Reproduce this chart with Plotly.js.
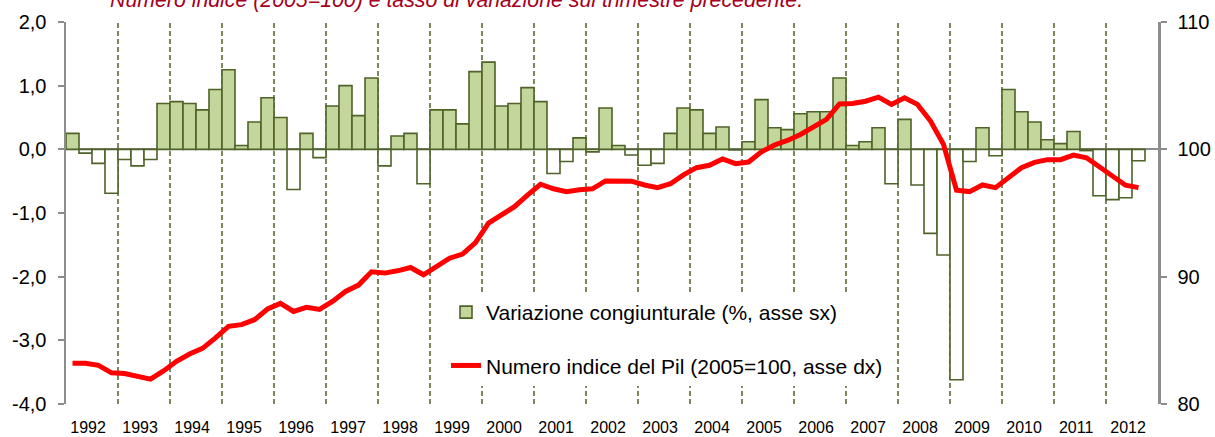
<!DOCTYPE html>
<html>
<head>
<meta charset="utf-8">
<script src="https://cdn.plot.ly/plotly-3.0.1.min.js"></script>
<style>html,body{margin:0;padding:0;background:#fff;}#chart{width:1215px;height:437px;}</style>
</head>
<body>
<div id="chart"></div>
<script>
// ---- Data ----
var years = ["1992","1993","1994","1995","1996","1997","1998","1999","2000","2001","2002",
             "2003","2004","2005","2006","2007","2008","2009","2010","2011","2012"];
var quarters = ["I","II","III","IV"];

// Variazione congiunturale (%), quarterly, 1992Q1 - 2012Q4 (last quarter not available)
var variazione = [
  0.25, -0.06, -0.22, -0.69,   // 1992
 -0.16, -0.26, -0.16,  0.72,   // 1993
  0.75,  0.72,  0.62,  0.94,   // 1994
  1.25,  0.06,  0.43,  0.81,   // 1995
  0.50, -0.63,  0.25, -0.13,   // 1996
  0.68,  1.00,  0.53,  1.12,   // 1997
 -0.26,  0.21,  0.25, -0.54,   // 1998
  0.62,  0.62,  0.40,  1.22,   // 1999
  1.37,  0.68,  0.72,  0.97,   // 2000
  0.75, -0.38, -0.19,  0.18,   // 2001
 -0.04,  0.65,  0.06, -0.09,   // 2002
 -0.25, -0.22,  0.25,  0.65,   // 2003
  0.62,  0.25,  0.35, -0.01,   // 2004
  0.12,  0.78,  0.34,  0.31,   // 2005
  0.56,  0.59,  0.59,  1.12,   // 2006
  0.06,  0.12,  0.34, -0.54,   // 2007
  0.47, -0.56, -1.32, -1.66,   // 2008
 -3.62, -0.19,  0.34, -0.10,   // 2009
  0.94,  0.59,  0.43,  0.15,   // 2010
  0.09,  0.28, -0.02, -0.73,   // 2011
 -0.79, -0.76, -0.18,  null    // 2012
];

// Numero indice del Pil (2005=100)
var indice = [
  83.20, 83.20, 83.04, 82.45,
  82.40, 82.15, 81.95, 82.60,
  83.35, 83.93, 84.37, 85.19,
  86.10, 86.23, 86.62, 87.46,
  87.90, 87.27, 87.59, 87.43,
  88.06, 88.84, 89.34, 90.38,
  90.28, 90.46, 90.72, 90.15,
  90.85, 91.45, 91.77, 92.68,
  94.20, 94.80, 95.50, 96.40,
  97.26, 96.90, 96.68, 96.83,
  96.90, 97.52, 97.52, 97.50,
  97.20, 96.99, 97.30, 97.99,
  98.56, 98.75, 99.24, 98.87,
  99.00, 99.81, 100.34, 100.70,
  101.17, 101.80, 102.35, 103.57,
  103.60, 103.78, 104.10, 103.53,
  104.05, 103.53, 102.22, 100.39,
  96.79, 96.68, 97.20, 96.99,
  97.78, 98.56, 98.98, 99.19,
  99.19, 99.55, 99.34, 98.61,
  97.90, 97.18, 96.99, null
];

var leftTicks = [-4, -3, -2, -1, 0, 1, 2];
var rightTicks = [80, 90, 100, 110];

// ---- Build ----
var xIdx = [], labels = [];
years.forEach(function(y, k){ quarters.forEach(function(q, j){ xIdx.push(k*4+j); labels.push(q + " " + y); }); });

var green = "#C3D69B", olive = "#4F6228";
var barColors = variazione.map(function(v){ return (v !== null && v < 0) ? "#FFFFFF" : green; });

var barTrace = {
  type: "bar", x: xIdx, y: variazione, name: "Variazione congiunturale (%, asse sx)",
  hovertext: labels, hoverinfo: "text+y", textposition: "none",
  marker: { color: barColors, line: { color: olive, width: 1.6 } },
  width: 1, legendgroup: "a"
};
var lineTrace = {
  type: "scatter", mode: "lines", x: xIdx, y: indice, yaxis: "y2",
  name: "Numero indice del Pil (2005=100, asse dx)",
  line: { color: "#FF0000", width: 5 }, legendgroup: "b"
};

var shapes = [];
for (var k = 1; k < years.length; k++) {
  shapes.push({ type: "line", xref: "x", yref: "paper", x0: k*4 - 0.5, x1: k*4 - 0.5, y0: 0, y1: 1,
    layer: "below", line: { color: olive, width: 1.5, dash: "5px,3px" } });
}

var font = "'Liberation Sans', Arial, sans-serif";
var layout = {
  width: 1215, height: 437,
  margin: { l: 66, r: 57, t: 22, b: 33, pad: 0 },
  paper_bgcolor: "#FFFFFF", plot_bgcolor: "rgba(0,0,0,0)",
  separators: ",.",
  font: { family: font, color: "#000000", size: 15 },
  title: {
    text: "<i>Numero indice (2005=100) e tasso di variazione sul trimestre precedente.</i>",
    font: { family: font, size: 21.3, color: "#A50021" },
    xref: "container", yref: "container", x: 110/1215, xanchor: "left", y: 1, yanchor: "middle"
  },
  bargap: 0,
  showlegend: true,
  legend: {
    x: (446-66)/1092, xanchor: "left", y: (404-292)/382, yanchor: "top",
    bgcolor: "#FFFFFF", borderwidth: 0, font: { family: font, size: 21, color: "#000" },
    tracegroupgap: 23, traceorder: "grouped"
  },
  xaxis: {
    range: [-0.5, xIdx.length - 0.5], showgrid: false, zeroline: false, showline: false,
    ticks: "", tickmode: "array",
    tickvals: years.map(function(y, k){ return k*4 + 1.2; }), ticktext: years,
    tickfont: { family: font, size: 16, color: "#000" }, ticklabelstandoff: 12
  },
  yaxis: {
    range: [-4, 2], tickmode: "array", tickvals: leftTicks,
    ticktext: leftTicks.map(function(v){ return v.toFixed(1).replace(".", ","); }),
    showgrid: false, zeroline: true, zerolinecolor: "#8C8C8C", zerolinewidth: 2,
    showline: true, linecolor: "#8C8C8C", linewidth: 2.5,
    ticks: "outside", ticklen: 6, tickwidth: 2, tickcolor: "#8C8C8C",
    tickfont: { family: font, size: 20, color: "#000" }, ticklabelstandoff: 7
  },
  yaxis2: {
    range: [80, 110], overlaying: "y", side: "right", tickmode: "array", tickvals: rightTicks,
    showgrid: false, zeroline: false,
    showline: true, linecolor: "#8C8C8C", linewidth: 2.5,
    ticks: "outside", ticklen: 6, tickwidth: 2, tickcolor: "#8C8C8C",
    tickfont: { family: font, size: 20, color: "#000" }, ticklabelstandoff: 7
  },
  shapes: shapes
};

Plotly.newPlot("chart", [barTrace, lineTrace], layout, { displayModeBar: false, staticPlot: true });
</script>
</body>
</html>
